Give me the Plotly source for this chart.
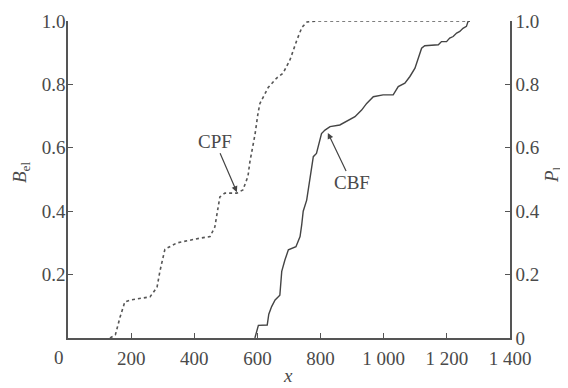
import plotly.graph_objects as go

# CPF (cumulative plausibility) - dotted
cpf_x = [133, 150, 165, 180, 200, 260, 282, 291, 307, 345, 418, 450, 465, 471, 481, 497, 535, 554, 570, 576,
         592, 602, 608, 634, 661, 681, 703, 725, 741, 757, 788, 1273]
cpf_y = [0, 0.01, 0.066, 0.114, 0.12, 0.13, 0.16, 0.21, 0.28, 0.30, 0.315, 0.32, 0.35, 0.39, 0.445, 0.457, 0.457,
         0.467, 0.51, 0.555, 0.64, 0.71, 0.74, 0.79, 0.82, 0.835, 0.877, 0.94, 0.98, 0.997, 1.0, 1.0]

# CBF (cumulative belief) - solid
cbf_x = [592, 603, 631, 636, 645, 656, 671, 677, 687, 698, 722, 735, 740, 745, 756, 761, 766, 772, 777, 787,
         798, 803, 814, 830, 861, 883, 909, 930, 946, 967, 998, 1030, 1046, 1067, 1083, 1099, 1109, 1120, 1130,
         1173, 1183, 1199, 1209, 1220, 1231, 1241, 1251, 1262, 1267, 1273]
cbf_y = [0, 0.04, 0.041, 0.075, 0.099, 0.12, 0.135, 0.21, 0.246, 0.278, 0.288, 0.32, 0.355, 0.40, 0.435, 0.467,
         0.498, 0.53, 0.572, 0.582, 0.625, 0.645, 0.656, 0.667, 0.672, 0.683, 0.698, 0.719, 0.74, 0.761, 0.767,
         0.767, 0.793, 0.804, 0.825, 0.851, 0.883, 0.914, 0.922, 0.925, 0.935, 0.935, 0.946, 0.951, 0.962, 0.967,
         0.977, 0.983, 0.998, 1.0]

x_ticks = [0, 200, 400, 600, 800, 1000, 1200, 1400]
x_labels = ["", "200", "400", "600", "800", "1 000", "1 200", "1 400"]
left_ticks = [0.2, 0.4, 0.6, 0.8, 1.0]
left_labels = ["0.2", "0.4", "0.6", "0.8", "1.0"]
right_ticks = [0, 0.2, 0.4, 0.6, 0.8, 1.0]
right_labels = ["0", "0.2", "0.4", "0.6", "0.8", "1.0"]

FONT = "Liberation Serif"
AX = "#555555"
TXT = "#4a4a4a"
FS = 19

# page body adds an 8px offset; the figure is sized so the plot lands where the reference has it
OFF = 8
W, H = 560, 380
L, T = 60, 13
PW, PH = 442, 317
R, B = W - L - PW, H - T - PH

def px_to_paper(ax_, ay_):
    return (ax_ - OFF - L) / PW, (H - B - (ay_ - OFF)) / PH

fig = go.Figure()
fig.add_trace(go.Scatter(x=cbf_x, y=cbf_y, mode="lines", line=dict(color="#444444", width=1.4),
                         yaxis="y", showlegend=False))
fig.add_trace(go.Scatter(x=cpf_x, y=cpf_y, mode="lines", line=dict(color="#555555", width=1.6, dash="dot"),
                         yaxis="y2", showlegend=False))

fig.add_annotation(x=535, y=0.46, xref="x", yref="y", text="CPF", showarrow=True, ax=-22, ay=-51,
                   arrowhead=2, arrowsize=1, arrowwidth=1.2, arrowcolor="#444444",
                   font=dict(family=FONT, size=FS, color=TXT))
fig.add_annotation(x=823, y=0.647, xref="x", yref="y", text="CBF", showarrow=True, ax=24, ay=50,
                   arrowhead=2, arrowsize=1, arrowwidth=1.2, arrowcolor="#444444",
                   font=dict(family=FONT, size=FS, color=TXT))

# x tick label "0" (sits slightly left of the axis corner)
fig.add_annotation(x=0, y=0, xref="x", yref="y", text="0", showarrow=False, xshift=-9, yshift=-19,
                   xanchor="center", yanchor="middle",
                   font=dict(family=FONT, size=FS, color=TXT))

# axis titles (absolute pixel positions of the reference)
for txt, (px, py), ang in [("<i>B</i><sub>el</sub>", (21, 172), -90),
                           ("<i>P</i><sub>l</sub>", (553, 175), -90),
                           ("<i>x</i>", (288, 375), 0)]:
    xp, yp = px_to_paper(px, py)
    fig.add_annotation(x=xp, y=yp, xref="paper", yref="paper", text=txt, showarrow=False,
                       textangle=ang, xanchor="center", yanchor="middle",
                       font=dict(family=FONT, size=FS, color=TXT))

fig.update_layout(
    width=W, height=H,
    margin=dict(l=L, r=R, t=T, b=B, autoexpand=False),
    paper_bgcolor="white", plot_bgcolor="white",
    font=dict(family=FONT, size=FS, color=TXT),
    xaxis=dict(range=[0, 1400], tickvals=x_ticks, ticktext=x_labels, ticks="inside", ticklen=5,
               tickcolor=AX, showline=True, linecolor=AX, linewidth=1.5, showgrid=False, zeroline=False,
               ticklabelstandoff=2),
    yaxis=dict(range=[0, 1], tickvals=left_ticks, ticktext=left_labels, ticks="inside", ticklen=5,
               tickcolor=AX, showline=True, linecolor=AX, linewidth=1.5, showgrid=False, zeroline=False,
               ticklabelstandoff=-3),
    yaxis2=dict(range=[0, 1], tickvals=right_ticks, ticktext=right_labels, ticks="inside", ticklen=5,
                tickcolor=AX, showline=True, linecolor=AX, linewidth=1.5, showgrid=False, zeroline=False,
                overlaying="y", side="right", anchor="x"),
)

fig.write_html("out.html")
